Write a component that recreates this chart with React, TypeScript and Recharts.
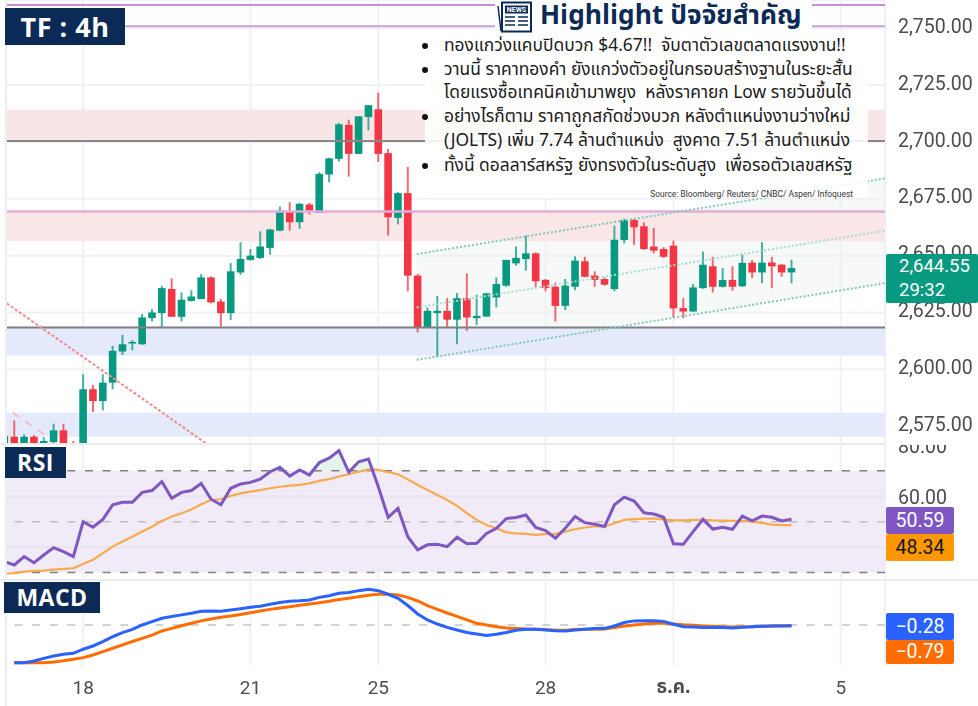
import React from "react";
import { ComposedChart, Bar, Line, Area, XAxis, YAxis, CartesianGrid, ReferenceArea, ReferenceLine } from "recharts";

const opens = [2566,2570.3,2566,2570.3,2566,2567.9,2573.1,2567.5,2562,2591.2,2586,2594.1,2607.8,2611.3,2611,2622.5,2624.7,2635.3,2623.1,2630.1,2630.9,2640.4,2629.8,2624.7,2642.6,2648.1,2649,2653.4,2661,2669.5,2664.7,2672.5,2668.8,2685.7,2692.6,2707.5,2694.8,2711,2714.4,2695.1,2666.6,2677.5,2641.2,2618.4,2624.7,2625.7,2621.8,2631.3,2622.5,2623.2,2631.6,2636.8,2646.6,2648.5,2651,2639.3,2636.3,2627.9,2636.3,2647.5,2641.2,2639.7,2635.3,2656.9,2665.7,2662.9,2654,2652.9,2654.4,2626.9,2625.4,2635.7,2645.3,2636.3,2639.3,2636.5,2646.9,2642.6,2647,2646,2642.6];
const closes = [2570.6,2566,2570.3,2566,2568.4,2573.1,2566,2566.9,2591.2,2586,2594.1,2608.1,2611,2612,2622.8,2625,2635.7,2623.1,2630.6,2632,2640.4,2629.4,2624.7,2643.1,2648.5,2650,2654,2661.5,2669.8,2664.7,2672.8,2669.8,2686,2692.8,2707.8,2694.8,2711.3,2716.2,2694.8,2666.9,2677.5,2641.2,2618.4,2625.7,2625.7,2621.8,2631.3,2622.8,2623.5,2633.4,2637.5,2648.1,2649,2651,2638.7,2635.7,2627.9,2636.8,2647.8,2640.7,2639.3,2637.2,2657,2665.7,2662.5,2652.9,2652.2,2649.5,2626.8,2625.4,2636,2646,2636.3,2639.3,2636.3,2646.8,2642.6,2646.9,2645.3,2642.6,2644.5];
const highs = [2570.6,2577.5,2571.3,2571,2570.1,2576,2576,2568.4,2597.8,2593.1,2597.8,2610.3,2615.1,2612.8,2624.3,2626.5,2636.7,2640,2633.8,2634.8,2641.9,2640.9,2630.9,2646.7,2655.9,2652.9,2660.7,2661.8,2671.6,2673.5,2673.2,2673.2,2686.7,2693.1,2708.4,2709.8,2711.3,2716.2,2721.7,2697,2677.9,2689,2641.9,2627.2,2632.3,2631.3,2633.5,2642.2,2632.8,2633.5,2640.4,2648.2,2654,2658.8,2651.5,2639.7,2638.2,2639.7,2649.7,2649.5,2643.1,2640.4,2663.2,2666.2,2666.2,2664.7,2662.2,2653.7,2656.6,2631.3,2637.5,2651.8,2649.5,2644.5,2645.3,2650.4,2648.1,2655.9,2649.5,2646.3,2648.2];
const lows = [2566,2566,2566,2566,2566,2566.9,2566,2566,2560,2581.2,2581.9,2591.2,2606.3,2608.4,2610.7,2621,2618.4,2623.1,2621,2629.8,2630.9,2629,2618.7,2621.6,2641.6,2647.8,2648.5,2650.4,2660.7,2661,2661.8,2668.1,2668.8,2682.3,2691.5,2684.8,2694.8,2705.1,2691.2,2658.8,2663.7,2634.3,2616.2,2618.4,2605.4,2618.4,2611,2616.9,2619.5,2623.2,2627.2,2636.3,2645.6,2643.4,2635.7,2634.3,2621,2626,2634.8,2640.4,2636.3,2636.8,2634.3,2655.4,2654.8,2652.5,2651,2649,2622.8,2622.5,2625.3,2635.4,2633.8,2636,2634.6,2636.3,2640.1,2637.8,2635.7,2640.7,2637.8];

const rsiValues = [34.3,33,36.3,33.9,36.9,39.8,38.2,36.3,50,47.8,50.9,56.6,57.6,57.6,61.5,62.2,65.7,59.2,61.5,62.2,65,58.8,56.6,63.1,64.8,65.4,66.7,69.6,71.3,67.9,70.3,68.3,73.2,74.9,77.9,69.4,73.5,74.6,63.7,51.7,55.2,44.1,38.9,40.9,41.1,40.2,43.9,41.3,41.5,45.4,47.4,51.2,51.6,52.6,47.7,46.5,43.5,47.4,52,49.6,49,48.1,56.6,59.6,58.1,53.5,53,51.7,41.3,41.1,46.1,50.9,47.1,47.8,47,52.2,50.3,52.2,51.7,50.3,50.9];
const rsiMa = [29.5,29.8,30.4,30.7,30.8,31.2,31.5,31.7,33.4,35,37.6,40.2,42.2,44.1,46.1,48,50.3,52,53.3,54.8,56.8,58.5,58.8,60.1,61.1,61.8,62.4,63.1,63.7,64.1,64.4,65,66,66.7,67.7,68.6,69.6,70.5,70.3,69.4,68.6,66.6,64.4,62.4,60.5,58.5,56.2,53.3,50.7,48.7,47.4,45.8,45.4,45.2,44.8,45.1,45.2,46.1,47,47.7,48.1,48.1,49.4,50.7,51,51.2,51.2,50.9,50.5,50.5,50.7,50.7,50.5,50.4,50.3,50.3,50,49.5,48.8,48.6,48.6];
const macdValues = [null,-15.7,-15.7,-15,-13.9,-12.9,-12.2,-11.8,-10.1,-8.75,-6.9,-4.9,-3.2,-1.8,0,1.4,2.8,3.5,4.2,4.9,5.7,5.8,5.7,6.25,6.8,7.4,7.8,8.6,9.4,9.9,10.1,10.4,11.5,12.2,13.2,13.5,14.3,14.9,14.3,12.8,11.1,8.1,4.6,2.1,0.4,-1,-2.1,-3.1,-3.75,-4.4,-3.9,-3.1,-2.2,-1.8,-1.8,-2.1,-2.4,-2.5,-2.1,-1.8,-1.5,-1.4,-0.4,1,1.7,1.8,1.8,1.5,0.3,-0.7,-0.8,-1,-1.1,-1.1,-1.25,-1,-0.7,-0.55,-0.4,-0.4,-0.28];
const signalValues = [null,-15.7,-15.7,-15.7,-15.7,-15.4,-14.9,-14.3,-13.6,-12.5,-11.1,-9.7,-8.3,-6.9,-5.6,-4.2,-2.5,-1.4,-0.3,0.7,1.7,2.5,3.2,3.75,4.4,5.1,5.8,6.5,7.1,7.6,8.2,8.75,9.3,9.9,10.6,11.1,11.8,12.4,12.8,12.8,12.5,11.5,10,8.1,6.5,5,3.6,2.1,0.7,0,-0.7,-1.25,-1.5,-1.7,-1.8,-1.9,-2.2,-2.2,-1.9,-1.8,-1.8,-1.7,-1.1,-0.4,0,0.4,0.7,0.7,0.4,0.1,-0.1,-0.4,-0.55,-0.7,-0.8,-0.7,-0.7,-0.55,-0.4,-0.3,-0.3];

const priceTicks = [2575, 2600, 2625, 2650, 2675, 2700, 2725, 2750];
const timeTicks = [8, 25, 38, 55, 68, 85];
const timeLabels = ["18", "21", "25", "28", "ธ.ค.", "5"];

const channelUpper = [{ i: 41.9, v: 2650.7 }, { i: 89.5, v: 2684 }];
const channelMiddle = [{ i: 41.9, v: 2627.2 }, { i: 89.5, v: 2661 }];
const channelLower = [{ i: 41.9, v: 2604.1 }, { i: 89.5, v: 2637.9 }];
const channelFill = [{ i: 41.9, band: [2604.1, 2650.7] }, { i: 89.5, band: [2637.9, 2684] }];
const trendDown = [{ i: 0.23, v: 2629 }, { i: 20.55, v: 2567.2 }];
const trendDownFaint = [{ i: 0.83, v: 2580.9 }, { i: 4.5, v: 2570 }];

const newsLines = [
  "ทองแกว่งแคบปิดบวก $4.67!!  จับตาตัวเลขตลาดแรงงาน!!",
  "วานนี้ ราคาทองคำ ยังแกว่งตัวอยู่ในกรอบสร้างฐานในระยะสั้น",
  "โดยแรงซื้อเทคนิคเข้ามาพยุง  หลังราคายก Low รายวันขึ้นได้",
  "อย่างไรก็ตาม ราคาถูกสกัดช่วงบวก หลังตำแหน่งงานว่างใหม่",
  "(JOLTS) เพิ่ม 7.74 ล้านตำแหน่ง  สูงคาด 7.51 ล้านตำแหน่ง",
  "ทั้งนี้ ดอลลาร์สหรัฐ ยังทรงตัวในระดับสูง  เพื่อรอตัวเลขสหรัฐ",
];
const newsTops = [46, 70, 93, 117, 141, 166];
const bulletFor = [true, true, false, true, false, true];

const priceRows = opens.map((o, i) => ({ i, o, c: closes[i], h: highs[i], l: lows[i], range: [lows[i], highs[i]] }));
const rsiRows = rsiValues.map((rsi, i) => ({ i, rsi, ma: rsiMa[i], over: rsi > 70 ? [70, rsi] : [70, 70] }));
const macdRows = macdValues.map((m, i) => ({ i, macd: m, signal: signalValues[i] }));

const FONT = "Roboto, 'Liberation Sans', sans-serif";
const THAI = "'Noto Sans Thai', 'Noto Sans Thai Looped', 'Noto Sans', 'Open Sans', sans-serif";
const NAVY = "#0b2a55";
const GRID = "#eff1f5";
const X_DOMAIN: [number, number] = [0.157, 89.5];
const BODY = 7.6;

function Candle(props: any) {
  const { x, y, width, height, payload } = props;
  const { o, c, h, l } = payload;
  const up = c >= o;
  const color = up ? "#089981" : "#f23645";
  const k = h > l ? height / (h - l) : 0;
  const top = y + (h - Math.max(o, c)) * k;
  const bot = y + (h - Math.min(o, c)) * k;
  const cx = x + width / 2;
  return (
    <g>
      <line x1={cx} x2={cx} y1={y} y2={y + height} stroke={color} strokeWidth={2} opacity={0.75} />
      <rect x={cx - BODY / 2} y={top} width={BODY} height={Math.max(bot - top, 1.5)} fill={color} />
    </g>
  );
}

function PriceTick(props: any) {
  const { x, y, payload } = props;
  return (
    <text x={x + 5} y={y - 2} dominantBaseline="central" fontFamily={FONT} fontSize={19.5} fill="#4d4d4d">
      {payload.value.toLocaleString("en-US", { minimumFractionDigits: 2 })}
    </text>
  );
}

function RsiTick(props: any) {
  const { x, y, payload } = props;
  return (
    <text x={x + 5} y={y + 1} dominantBaseline="central" fontFamily={FONT} fontSize={19.5} fill="#4d4d4d">
      {payload.value.toFixed(2)}
    </text>
  );
}

function TimeTick(props: any) {
  const { x, y, payload } = props;
  const label = timeLabels[timeTicks.indexOf(payload.value)];
  return (
    <text x={x} y={y + 14} textAnchor="middle" dominantBaseline="central" fontFamily={label === "ธ.ค." ? THAI : FONT} fontWeight={label === "ธ.ค." ? 700 : 400} fontSize={19} fill="#4d4d4d">
      {label}
    </text>
  );
}

function Badge({ top, height, bg, color, children }: any) {
  return (
    <div style={{ position: "absolute", left: 886, top, width: 68, height, background: bg, color, fontFamily: FONT, fontSize: 19.5, lineHeight: `${height}px`, textAlign: "center", borderRadius: 2 }}>
      {children}
    </div>
  );
}

function Tag({ left, top, width, height, fontSize, children }: any) {
  return (
    <div style={{ position: "absolute", left, top, width, height, background: NAVY, color: "#fff", fontFamily: "'Open Sans', sans-serif", fontWeight: 700, fontSize, lineHeight: `${height}px`, textAlign: "center", letterSpacing: 0.5 }}>
      {children}
    </div>
  );
}

function NewsIcon() {
  return (
    <svg width={38} height={32} viewBox="0 0 38 32" style={{ position: "absolute", left: 495, top: 1 }}>
      <path d="M3 5 L6 30" stroke={NAVY} strokeWidth={1.5} fill="none" />
      <rect x={7} y={1.5} width={29} height={29} fill="#fff" stroke={NAVY} strokeWidth={2} />
      <rect x={10} y={4.5} width={23} height={8} fill={NAVY} />
      <text x={21.5} y={11} textAnchor="middle" fontFamily={FONT} fontSize={7} fontWeight={700} fill="#fff">NEWS</text>
      <path d="M10 16 H20 M10 20 H20 M10 24 H20 M23 16 H33 M23 20 H33 M23 24 H33" stroke={NAVY} strokeWidth={1.6} />
    </svg>
  );
}

export default function App() {
  return (
    <div style={{ position: "fixed", left: 0, top: 0, width: 978, height: 706, background: "#fff", overflow: "hidden" }}>
      {/* price panel */}
      <div style={{ position: "absolute", left: 0, top: 0, filter: "blur(0.5px)" }}>
        <ComposedChart width={978} height={444} data={priceRows} margin={{ top: 0, right: 0, bottom: 0, left: 6 }}>
          <CartesianGrid stroke={GRID} strokeWidth={2} />
          <XAxis dataKey="i" type="number" domain={X_DOMAIN} allowDataOverflow ticks={timeTicks} hide />
          <YAxis orientation="right" width={93} type="number" domain={[2567.1, 2762.5]} allowDataOverflow ticks={priceTicks} interval={0} axisLine={false} tickLine={false} tick={<PriceTick />} />
          <Area data={channelFill} dataKey="band" stroke="none" fill="#eef2f0" fillOpacity={0.45} isAnimationActive={false} dot={false} activeDot={false} />
          <ReferenceArea y1={2701} y2={2714.2} fill="#f8e6e6" fillOpacity={1} stroke="none" />
          <ReferenceArea y1={2656.3} y2={2669.1} fill="#fbe6e8" fillOpacity={1} stroke="none" />
          <ReferenceArea y1={2606} y2={2618.4} fill="#e4e9fb" fillOpacity={1} stroke="none" />
          <ReferenceArea y1={2570.3} y2={2580.9} fill="#e4e9fb" fillOpacity={1} stroke="none" />
          <ReferenceLine y={2700.4} stroke="#8e8486" strokeWidth={2} />
          <ReferenceLine y={2618.4} stroke="#7f7f7f" strokeWidth={2} />
          <ReferenceLine y={2760.3} stroke="#c58fd6" strokeWidth={2} />
          <ReferenceLine y={2750.9} stroke="#cf9fdd" strokeWidth={2} />
          <ReferenceLine y={2669.4} stroke="#dfaedb" strokeWidth={2.5} />
          <Line data={channelUpper} dataKey="v" stroke="#7fcbb5" strokeWidth={2} strokeDasharray="2 2" dot={false} activeDot={false} isAnimationActive={false} />
          <Line data={channelMiddle} dataKey="v" stroke="#a9dccd" strokeWidth={2} strokeDasharray="2 2" dot={false} activeDot={false} isAnimationActive={false} />
          <Line data={channelLower} dataKey="v" stroke="#7fcbb5" strokeWidth={2} strokeDasharray="2 2" dot={false} activeDot={false} isAnimationActive={false} />
          <Line data={trendDown} dataKey="v" stroke="#f28c8c" strokeWidth={2} strokeDasharray="3 2" dot={false} activeDot={false} isAnimationActive={false} />
          <Line data={trendDownFaint} dataKey="v" stroke="#f3b5b5" strokeWidth={1.5} strokeDasharray="8 7" dot={false} activeDot={false} isAnimationActive={false} />
          <Bar dataKey="range" barSize={8} shape={<Candle />} isAnimationActive={false} />
        </ComposedChart>
      </div>
      <div style={{ position: "absolute", left: 0, top: 443, width: 885, height: 2, background: "#e9ebef" }} />

      {/* RSI panel */}
      <div style={{ position: "absolute", left: 0, top: 445, filter: "blur(0.5px)" }}>
        <ComposedChart width={978} height={135} data={rsiRows} margin={{ top: 0, right: 0, bottom: 0, left: 6 }}>
          <CartesianGrid stroke={GRID} strokeWidth={2} horizontal={false} />
          <XAxis dataKey="i" type="number" domain={X_DOMAIN} allowDataOverflow ticks={timeTicks} hide />
          <YAxis orientation="right" width={93} type="number" domain={[27.1, 80.08]} allowDataOverflow ticks={[60, 80]} interval={0} axisLine={false} tickLine={false} tick={<RsiTick />} />
          <ReferenceArea y1={30} y2={70} fill="#f0ebf7" fillOpacity={1} stroke="none" />
          <ReferenceLine y={60} stroke="#e8e3f0" strokeWidth={2} />
          <ReferenceLine y={40} stroke="#e8e3f0" strokeWidth={2} />
          <ReferenceLine y={70} stroke="#808080" strokeWidth={1.5} strokeDasharray="8 9.6" />
          <ReferenceLine y={30} stroke="#808080" strokeWidth={1.5} strokeDasharray="8 9.6" />
          <ReferenceLine y={50} stroke="#bdbdbd" strokeWidth={1.5} strokeDasharray="8 9.6" />
          <Area dataKey="over" stroke="none" fill="#e6f3e8" fillOpacity={1} isAnimationActive={false} dot={false} activeDot={false} />
          <Line dataKey="ma" stroke="#f7ab4d" strokeWidth={2.2} dot={false} activeDot={false} isAnimationActive={false} />
          <Line dataKey="rsi" stroke="#7e57c2" strokeWidth={3} dot={false} activeDot={false} isAnimationActive={false} />
        </ComposedChart>
      </div>
      <div style={{ position: "absolute", left: 0, top: 579, width: 978, height: 2, background: "#e9ebef" }} />

      {/* MACD panel */}
      <div style={{ position: "absolute", left: 0, top: 582, filter: "blur(0.5px)" }}>
        <ComposedChart width={978} height={124} data={macdRows} margin={{ top: 0, right: 0, bottom: 0, left: 6 }}>
          <CartesianGrid stroke={GRID} strokeWidth={2} horizontal={false} />
          <XAxis dataKey="i" type="number" domain={X_DOMAIN} allowDataOverflow ticks={timeTicks} interval={0} height={41} axisLine={false} tickLine={false} tick={<TimeTick />} />
          <YAxis orientation="right" width={93} type="number" domain={[-16.67, 17.9]} allowDataOverflow ticks={[]} axisLine={false} tickLine={false} />
          <ReferenceLine y={0} stroke="#c4c4c4" strokeWidth={1.5} strokeDasharray="8 9.6" />
          <Line dataKey="signal" stroke="#ff6d00" strokeWidth={3} dot={false} activeDot={false} isAnimationActive={false} />
          <Line dataKey="macd" stroke="#2962ff" strokeWidth={3} dot={false} activeDot={false} isAnimationActive={false} />
        </ComposedChart>
      </div>

      {/* frame */}
      <div style={{ position: "absolute", left: 5, top: 0, width: 2, height: 706, background: "#eceef2" }} />

      {/* price badges */}
      <div style={{ position: "absolute", left: 886, top: 254, width: 92, height: 49, background: "#089981", color: "#fff", fontFamily: FONT, fontSize: 18.5, borderRadius: 2, paddingLeft: 13, boxSizing: "border-box" }}>
        <div style={{ lineHeight: "24px" }}>2,644.55</div>
        <div style={{ lineHeight: "24px" }}>29:32</div>
      </div>
      <Badge top={507} height={27} bg="#7e57c2" color="#fff">50.59</Badge>
      <Badge top={534} height={27} bg="#ff9800" color="#131722">48.34</Badge>
      <Badge top={613} height={27} bg="#2962ff" color="#fff">−0.28</Badge>
      <Badge top={640} height={24} bg="#ff6d00" color="#fff">−0.79</Badge>

      {/* tags */}
      <Tag left={5} top={8} width={120} height={37} fontSize={27}>TF : 4h</Tag>
      <Tag left={5} top={447} width={61} height={31} fontSize={23}>RSI</Tag>
      <Tag left={4} top={582} width={96} height={31} fontSize={23}>MACD</Tag>

      {/* news box */}
      <div style={{ position: "absolute", left: 495, top: 0, width: 317, height: 32, background: "#fff" }} />
      <div style={{ position: "absolute", left: 425, top: 32, width: 443, height: 166, background: "rgba(255,255,255,0.88)" }} />
      <NewsIcon />
      <div style={{ position: "absolute", left: 540, top: 1, height: 32, lineHeight: "30px", color: NAVY, fontFamily: THAI, fontWeight: 700, fontSize: 26.3, whiteSpace: "pre" }}>
        Highlight ปัจจัยสำคัญ
      </div>
      {newsLines.map((line, n) => (
        <div key={n} style={{ position: "absolute", left: 444, top: newsTops[n] - 12, height: 24, lineHeight: "24px", fontFamily: THAI, fontSize: 17.4, color: "#1a1a1a", whiteSpace: "pre" }}>
          {line}
        </div>
      ))}
      {newsTops.map((t, n) => bulletFor[n] ? (
        <div key={n} style={{ position: "absolute", left: 422, top: t - 3, width: 6, height: 6, borderRadius: 3, background: "#111" }} />
      ) : null)}
      <div style={{ position: "absolute", right: 125, top: 188, height: 12, lineHeight: "12px", fontFamily: FONT, fontSize: 8.4, color: "#333", whiteSpace: "pre" }}>
        Source: Bloomberg/ Reuters/ CNBC/ Aspen/ Infoquest
      </div>
    </div>
  );
}
